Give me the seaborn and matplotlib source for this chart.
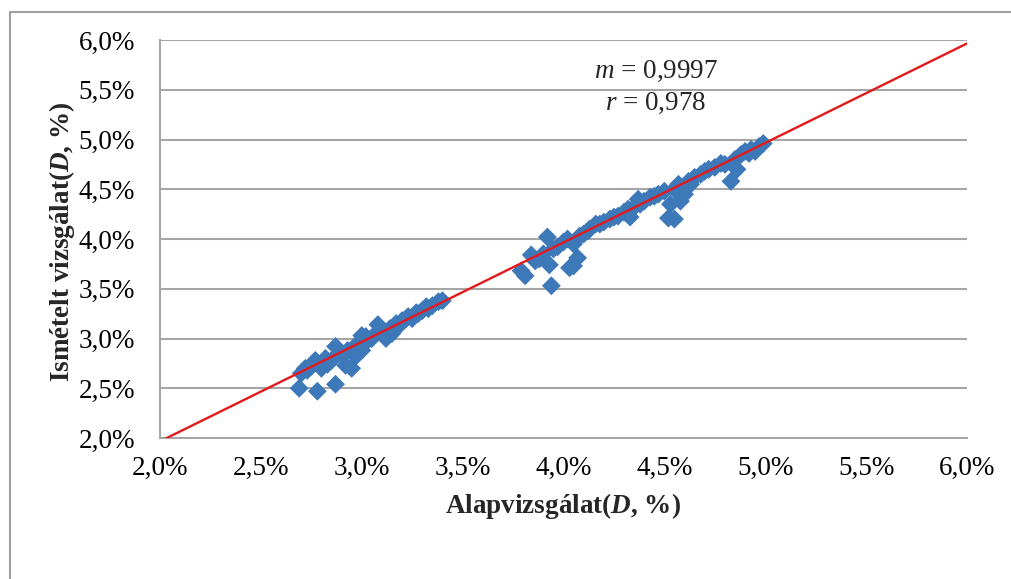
import numpy as np
import pandas as pd
import matplotlib
matplotlib.use("Agg")
import matplotlib.pyplot as plt
import seaborn as sns
from matplotlib.ticker import FixedLocator, FuncFormatter

# ---- data (percent) ----
alap = [2.69, 2.78, 2.87, 2.70, 2.73, 2.75, 2.77, 2.80, 2.83, 2.85, 2.87, 2.90, 2.92, 2.93,
        2.95, 2.97, 3.00, 3.00, 3.03, 3.05, 3.08, 3.10, 3.12, 3.14, 3.15, 3.18, 3.20, 3.23,
        3.25, 3.27, 3.30, 3.33, 3.35, 3.38, 3.40,
        2.72, 2.82, 2.98, 3.02, 3.07, 3.17, 3.22, 3.28, 3.32,
        3.79, 3.81, 3.84, 3.86, 3.88, 3.90, 3.92, 3.93, 3.94, 3.97, 4.00, 4.02, 4.03, 4.05,
        4.05, 4.07, 4.10, 4.13, 4.16, 4.20, 4.23, 4.27, 4.30, 4.33, 4.35, 4.37, 4.40, 4.43,
        4.47, 4.50, 4.52, 4.53, 4.55, 4.57, 4.58, 4.60, 4.62, 4.65, 4.68, 4.72, 4.75, 4.78,
        4.80, 4.83, 4.86, 4.88, 4.90, 4.93, 4.95, 4.97, 4.99,
        3.95, 4.08, 4.12, 4.18, 4.25, 4.32, 4.38, 4.45, 4.55, 4.63, 4.70, 4.85, 4.92]
ismetelt = [2.50, 2.47, 2.54, 2.65, 2.68, 2.72, 2.78, 2.70, 2.74, 2.78, 2.92, 2.85, 2.73, 2.88,
            2.70, 2.82, 2.88, 3.03, 2.98, 3.00, 3.14, 3.08, 3.00, 3.10, 3.05, 3.12, 3.18, 3.22,
            3.20, 3.26, 3.28, 3.30, 3.33, 3.37, 3.38,
            2.70, 2.80, 2.95, 3.02, 3.05, 3.15, 3.20, 3.25, 3.32,
            3.68, 3.63, 3.84, 3.78, 3.80, 3.85, 4.02, 3.74, 3.53, 3.92, 3.97, 4.00, 3.71, 3.73,
            3.95, 3.81, 4.05, 4.10, 4.15, 4.17, 4.20, 4.23, 4.27, 4.22, 4.32, 4.40, 4.38, 4.42,
            4.45, 4.48, 4.21, 4.35, 4.20, 4.55, 4.38, 4.45, 4.58, 4.62, 4.65, 4.70, 4.72, 4.76,
            4.75, 4.58, 4.70, 4.85, 4.88, 4.90, 4.88, 4.93, 4.96,
            3.90, 4.03, 4.08, 4.15, 4.22, 4.30, 4.35, 4.43, 4.50, 4.55, 4.68, 4.80, 4.86]
trend_slope = 0.9997
trend_intercept = -0.033
tick_values = [2.0, 2.5, 3.0, 3.5, 4.0, 4.5, 5.0, 5.5, 6.0]
x_label_text = "Alapvizsgálat($\\mathbf{D}$, %)"
y_label_text = "Ismételt vizsgálat($\\mathbf{D}$, %)"
m_text = "$m$ = 0,9997"
r_text = "$r$ = 0,978"

df = pd.DataFrame({"alap": alap, "ismetelt": ismetelt})

sns.set_style("white")
plt.rcParams["font.family"] = ["Liberation Serif", "DejaVu Serif"]
plt.rcParams["mathtext.fontset"] = "custom"
plt.rcParams["mathtext.rm"] = "Liberation Serif"
plt.rcParams["mathtext.it"] = "Liberation Serif:italic"
plt.rcParams["mathtext.bf"] = "Liberation Serif:bold:italic"

W, H = 1011, 579
fig = plt.figure(figsize=(W / 100, H / 100), dpi=100)
fig.patch.set_facecolor("white")
ax = fig.add_axes([160 / W, 1 - 438 / H, (967 - 160) / W, (438 - 40) / H])

grid_c = "#A6A6A6"
for v in tick_values[1:]:
    ax.axhline(v, color=grid_c, lw=1.5, zorder=0)

sns.scatterplot(data=df, x="alap", y="ismetelt", marker="D", s=92, color="#3D79B9",
                edgecolor="none", linewidth=0, ax=ax, zorder=3)

xs = np.array([tick_values[0], tick_values[-1]])
ax.plot(xs, trend_slope * xs + trend_intercept, color="#E3191C", lw=1.7, zorder=4)

ax.set_xlim(tick_values[0], tick_values[-1])
ax.set_ylim(tick_values[0], tick_values[-1])
ax.xaxis.set_major_locator(FixedLocator(tick_values))
ax.yaxis.set_major_locator(FixedLocator(tick_values))
fmt = FuncFormatter(lambda v, p: f"{v:.1f}%".replace(".", ","))
ax.xaxis.set_major_formatter(fmt)
ax.yaxis.set_major_formatter(fmt)

for s in ["top", "right"]:
    ax.spines[s].set_visible(False)
for s in ["left", "bottom"]:
    ax.spines[s].set_color(grid_c)
    ax.spines[s].set_linewidth(1.5)
ax.tick_params(axis="both", which="major", direction="out", length=6, width=1.5,
               color=grid_c, labelsize=19.5, labelcolor="black")
ax.tick_params(axis="x", pad=7)
ax.tick_params(axis="y", pad=12)
ax.set_xlabel("")
ax.set_ylabel("")

fig.text(563 / W, 1 - 506 / H, x_label_text, ha="center", va="center",
         fontsize=19.5, fontweight="bold")
fig.text(62 / W, 1 - 242 / H, y_label_text, ha="center", va="center",
         fontsize=19.5, fontweight="bold", rotation=90)
fig.text(656 / W, 1 - 71 / H, m_text, ha="center", va="center", fontsize=19.5)
fig.text(656 / W, 1 - 103 / H, r_text, ha="center", va="center", fontsize=19.5)

# outer chart frame (left and top edges visible)
fig.add_artist(plt.Line2D([9.5 / W, 9.5 / W], [0, 1 - 12 / H], color="#A0A0A0", lw=1.5,
                          transform=fig.transFigure))
fig.add_artist(plt.Line2D([9.5 / W, 1], [1 - 12 / H, 1 - 12 / H], color="#A0A0A0", lw=1.5,
                          transform=fig.transFigure))

fig.savefig("out.png", dpi=100)
